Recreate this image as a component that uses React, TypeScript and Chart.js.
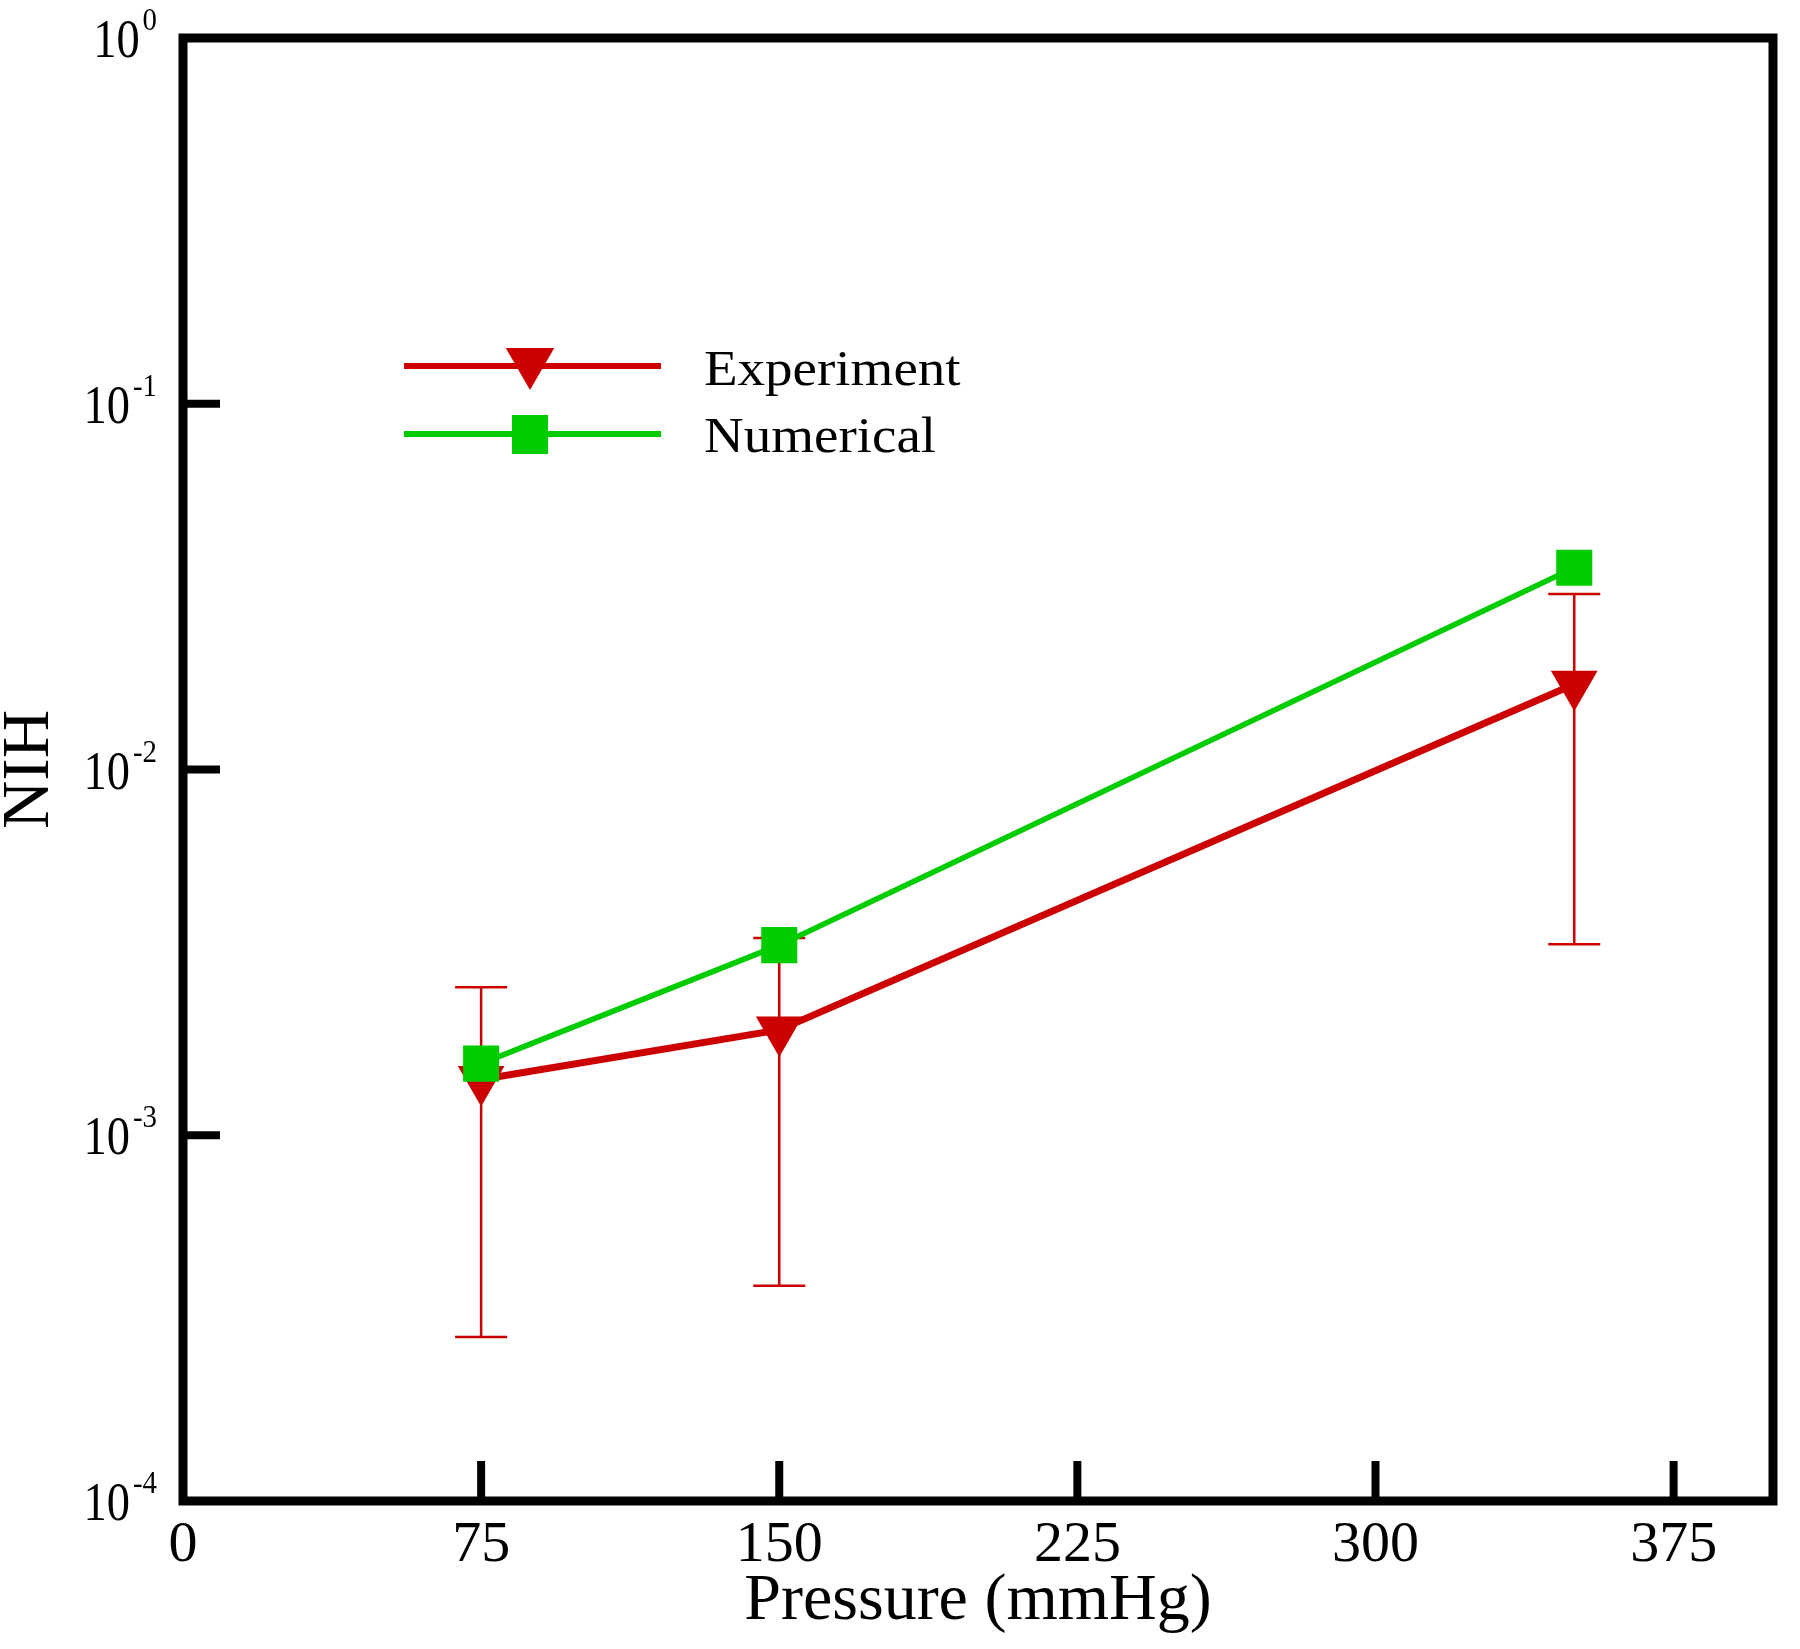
import React, { useEffect, useRef } from "react";
import { Chart, registerables } from "chart.js";

Chart.register(...registerables);

// ---- data ----
const pressures = [75, 150, 350];
const experimentNIH = [1.42e-3, 1.94e-3, 1.71e-2];
const experimentLow = [2.81e-4, 3.88e-4, 3.33e-3];
const experimentHigh = [2.54e-3, 3.46e-3, 3.02e-2];
const numericalNIH = [1.57e-3, 3.31e-3, 3.56e-2];
const xTickValues = [0, 75, 150, 225, 300, 375];
const yTickExponents = [0, -1, -2, -3, -4];
const seriesNames = ["Experiment", "Numerical"];
const xTitle = "Pressure (mmHg)";
const yTitle = "NIH";

// ---- styles ----
const RED = "rgb(204,0,0)";
const GREEN = "rgb(0,204,0)";
const FONT = "'Liberation Serif', 'Times New Roman', serif";

function drawScaledText(
  ctx: CanvasRenderingContext2D,
  text: string,
  x: number,
  y: number,
  size: number,
  sx: number,
  align: CanvasTextAlign
) {
  ctx.save();
  ctx.font = `${size}px ${FONT}`;
  ctx.translate(x, y);
  ctx.scale(sx, 1);
  ctx.textAlign = align;
  ctx.textBaseline = "alphabetic";
  ctx.fillStyle = "#000";
  ctx.fillText(text, 0, 0);
  ctx.restore();
}

function measure(ctx: CanvasRenderingContext2D, text: string, size: number) {
  ctx.save();
  ctx.font = `${size}px ${FONT}`;
  const w = ctx.measureText(text).width;
  ctx.restore();
  return w;
}

const errorBarPlugin = {
  id: "errorBars",
  beforeDatasetsDraw(chart: any) {
    const { ctx, scales } = chart;
    const x = scales.x;
    const y = scales.y;
    ctx.save();
    ctx.strokeStyle = RED;
    ctx.lineWidth = 2.5;
    pressures.forEach((p, i) => {
      const px = x.getPixelForValue(p);
      const top = y.getPixelForValue(experimentHigh[i]);
      const bot = y.getPixelForValue(experimentLow[i]);
      ctx.beginPath();
      ctx.moveTo(px, top);
      ctx.lineTo(px, bot);
      ctx.moveTo(px - 26, top);
      ctx.lineTo(px + 26, top);
      ctx.moveTo(px - 26, bot);
      ctx.lineTo(px + 26, bot);
      ctx.stroke();
    });
    ctx.restore();
  },
};

function drawTriangleDown(ctx: CanvasRenderingContext2D, cx: number, cy: number, r: number) {
  ctx.beginPath();
  for (let k = 0; k < 3; k++) {
    const a = Math.PI + (k * 2 * Math.PI) / 3;
    const px = cx + Math.sin(a) * r;
    const py = cy - Math.cos(a) * r;
    if (k === 0) ctx.moveTo(px, py);
    else ctx.lineTo(px, py);
  }
  ctx.closePath();
  ctx.fill();
}

const framePlugin = {
  id: "frameAndLabels",
  afterDraw(chart: any) {
    const { ctx, chartArea, scales } = chart;
    const { left, right, top, bottom } = chartArea;
    ctx.save();
    // y tick marks (inward)
    ctx.strokeStyle = "#000";
    ctx.lineWidth = 8;
    yTickExponents.forEach((e) => {
      const py = scales.y.getPixelForValue(Math.pow(10, e));
      if (py > top + 5 && py < bottom - 5) {
        ctx.beginPath();
        ctx.moveTo(left, py);
        ctx.lineTo(left + 37, py);
        ctx.stroke();
      }
    });
    // x tick marks (inward)
    ctx.lineWidth = 8;
    xTickValues.forEach((v) => {
      const px = scales.x.getPixelForValue(v);
      if (px > left + 5 && px < right - 5) {
        ctx.beginPath();
        ctx.moveTo(px, bottom);
        ctx.lineTo(px, bottom - 40);
        ctx.stroke();
      }
    });
    // frame
    ctx.lineWidth = 9;
    ctx.strokeRect(left, top, right - left, bottom - top);

    // y tick labels with superscripts
    const baseSize = 54;
    const baseSx = 0.86;
    const expSize = 32;
    const expSx = 0.9;
    const labelRight = 157;
    yTickExponents.forEach((e) => {
      const py = scales.y.getPixelForValue(Math.pow(10, e));
      const expText = String(e);
      const wExp = measure(ctx, expText, expSize) * expSx;
      drawScaledText(ctx, expText, labelRight - wExp, py - 8, expSize, expSx, "left");
      drawScaledText(ctx, "10", labelRight - wExp - 3, py + 19, baseSize, baseSx, "right");
    });

    // legend
    const legendX0 = 404;
    const legendX1 = 661;
    const markerX = 530;
    const textX = 704;
    const rows = [
      { y: 366, color: RED, name: seriesNames[0], base: 385, kind: "tri" },
      { y: 434, color: GREEN, name: seriesNames[1], base: 452, kind: "sq" },
    ];
    rows.forEach((r) => {
      ctx.strokeStyle = r.color;
      ctx.fillStyle = r.color;
      ctx.lineWidth = 6;
      ctx.beginPath();
      ctx.moveTo(legendX0, r.y);
      ctx.lineTo(legendX1, r.y);
      ctx.stroke();
      if (r.kind === "tri") {
        drawTriangleDown(ctx, markerX, r.y - 4, 28);
      } else {
        ctx.fillRect(markerX - 18, r.y - 19, 36, 39);
      }
      drawScaledText(ctx, r.name, textX, r.base, 50, 1.1, "left");
    });
    ctx.restore();
  },
};

export default function App() {
  const canvasRef = useRef<HTMLCanvasElement | null>(null);

  useEffect(() => {
    const canvas = canvasRef.current;
    if (!canvas) return;
    const chart = new Chart(canvas, {
      type: "line",
      data: {
        datasets: [
          {
            label: seriesNames[0],
            data: pressures.map((p, i) => ({ x: p, y: experimentNIH[i] })),
            borderColor: RED,
            backgroundColor: RED,
            borderWidth: 7,
            pointStyle: "triangle",
            rotation: 180,
            pointRadius: 27,
            pointBorderWidth: 0,
            pointBackgroundColor: RED,
            tension: 0,
            fill: false,
            order: 1,
          },
          {
            label: seriesNames[1],
            data: pressures.map((p, i) => ({ x: p, y: numericalNIH[i] })),
            borderColor: GREEN,
            backgroundColor: GREEN,
            borderWidth: 5.5,
            pointStyle: "rect",
            pointRadius: 25.5,
            pointBorderWidth: 0,
            pointBackgroundColor: GREEN,
            tension: 0,
            fill: false,
            order: 0,
          },
        ],
      },
      options: {
        responsive: false,
        animation: false,
        devicePixelRatio: 1,
        layout: { padding: { top: 38, right: 12, left: 0, bottom: 0 } },
        plugins: {
          legend: { display: false },
          tooltip: { enabled: false },
        },
        scales: {
          x: {
            type: "linear",
            min: 0,
            max: 400,
            afterBuildTicks: (s: any) => {
              s.ticks = xTickValues.map((v) => ({ value: v }));
            },
            afterFit: (s: any) => {
              s.height = 148;
            },
            grid: { display: false, drawTicks: false },
            border: { display: false },
            ticks: {
              color: "#000",
              font: { family: FONT, size: 58, lineHeight: 1 },
              padding: 16,
              maxRotation: 0,
              autoSkip: false,
            },
            title: {
              display: true,
              text: xTitle,
              color: "#000",
              font: { family: FONT, size: 66, lineHeight: 1 },
              padding: { top: 0, bottom: 14 },
            },
          },
          y: {
            type: "logarithmic",
            min: 1e-4,
            max: 1,
            afterBuildTicks: (s: any) => {
              s.ticks = yTickExponents.map((e) => ({ value: Math.pow(10, e) }));
            },
            afterFit: (s: any) => {
              s.width = 183;
            },
            grid: { display: false, drawTicks: false },
            border: { display: false },
            ticks: { display: false },
            title: {
              display: true,
              text: yTitle,
              color: "#000",
              font: { family: FONT, size: 67, lineHeight: 0.8 },
              padding: { top: 4, bottom: 0 },
            },
          },
        },
      } as any,
      plugins: [errorBarPlugin, framePlugin],
    });
    return () => chart.destroy();
  }, []);

  return (
    <div style={{ position: "absolute", left: 0, top: 0, width: 1800, height: 1649, background: "#fff" }}>
      <canvas ref={canvasRef} width={1800} height={1649} />
    </div>
  );
}
